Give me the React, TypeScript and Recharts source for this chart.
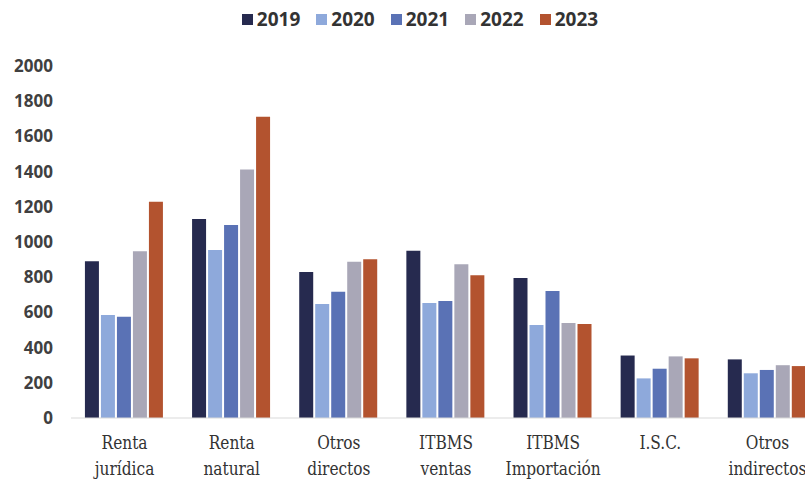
import { BarChart, Bar, XAxis, YAxis, Legend } from "recharts";

const categories = [
  "Renta jurídica",
  "Renta natural",
  "Otros directos",
  "ITBMS ventas",
  "ITBMS Importación",
  "I.S.C.",
  "Otros indirectos",
];
const years = ["2019", "2020", "2021", "2022", "2023"];
const v2019 = [890, 1130, 830, 950, 795, 355, 333];
const v2020 = [585, 955, 648, 653, 528, 225, 254];
const v2021 = [575, 1097, 718, 665, 722, 280, 273];
const v2022 = [948, 1412, 888, 873, 540, 350, 300];
const v2023 = [1228, 1712, 902, 811, 534, 339, 295];
const yTicks = [0, 200, 400, 600, 800, 1000, 1200, 1400, 1600, 1800, 2000];

const colors = ["#262a4f", "#8ea9db", "#5a72b5", "#a9a7b7", "#b3532f"];

const series = [v2019, v2020, v2021, v2022, v2023];
const data = categories.map((c, i) => {
  const row: Record<string, string | number> = { name: c };
  years.forEach((y, k) => {
    row[y] = series[k][i];
  });
  return row;
});

// two-line category labels
const CatTick = (props: any) => {
  const { x, y, payload } = props;
  const words = String(payload.value).split(" ");
  return (
    <g transform={`translate(${x},${y}) scale(0.9,1)`}>
      {words.map((w: string, i: number) => (
        <text
          key={i}
          x={0}
          y={i * 26}
          dy={23}
          textAnchor="middle"
          fill="#333"
          fontFamily="'DejaVu Serif Condensed', 'Liberation Serif', serif"
          fontSize={19}
        >
          {w}
        </text>
      ))}
    </g>
  );
};

const YearLegend = () => (
  <div
    style={{
      display: "flex",
      justifyContent: "center",
      fontFamily: "'Noto Sans', sans-serif",
      fontWeight: 700,
      fontSize: 19,
      lineHeight: "26px",
      color: "#333",
    }}
  >
    {years.map((y, i) => (
      <div key={y} style={{ display: "flex", alignItems: "center", margin: "0 8px" }}>
        <span
          style={{
            display: "inline-block",
            width: 11,
            height: 11,
            background: colors[i],
            marginRight: 4,
          }}
        />
        {y}
      </div>
    ))}
  </div>
);

export default function App() {
  return (
    <div
      style={{
        position: "fixed",
        left: 0,
        top: 0,
        width: 805,
        height: 481,
        overflow: "hidden",
        background: "#fff",
      }}
    >
      <BarChart
        width={826}
        height={481}
        data={data}
        margin={{ top: 34, right: 5, bottom: 0, left: 0 }}
        barCategoryGap="13%"
        barGap={2}
      >
        <XAxis
          dataKey="name"
          interval={0}
          height={63}
          tickLine={false}
          axisLine={{ stroke: "#d9d9d9" }}
          tick={<CatTick />}
        />
        <YAxis
          width={71}
          domain={[0, 2000]}
          ticks={yTicks}
          interval={0}
          axisLine={false}
          tickLine={false}
          tickMargin={12}
          tick={{
            fill: "#404040",
            fontSize: 17,
            fontWeight: 700,
            fontFamily: "'Noto Sans', sans-serif",
          }}
        />
        <Legend
          verticalAlign="top"
          height={32}
          content={<YearLegend />}
          wrapperStyle={{ top: 6, left: 0, width: 840 }}
        />
        {years.map((y, i) => (
          <Bar key={y} dataKey={y} fill={colors[i]} isAnimationActive={false} />
        ))}
      </BarChart>
    </div>
  );
}
